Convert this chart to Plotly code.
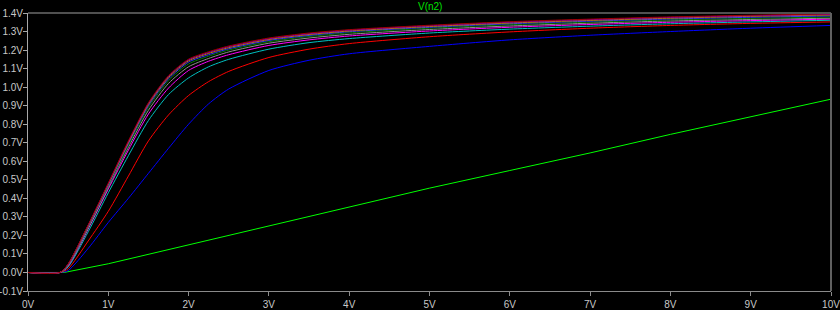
import plotly.graph_objects as go

# Sweep input (V) sample points
vin = [0, 0.4, 0.5, 0.75, 1, 1.25, 1.5, 1.75, 2, 2.25, 2.5, 3, 3.5, 4, 5, 6, 7, 8, 9, 10]

blue = [0, 0, 0.01, 0.13, 0.27, 0.40, 0.535, 0.67, 0.80, 0.91, 0.99, 1.09, 1.145, 1.18, 1.22, 1.255, 1.28, 1.30, 1.318, 1.333]
red = [0, 0, 0.02, 0.17, 0.33, 0.52, 0.71, 0.85, 0.955, 1.03, 1.085, 1.16, 1.205, 1.235, 1.272, 1.298, 1.318, 1.333, 1.344, 1.352]
cyan = [0, 0, 0.03, 0.22, 0.43, 0.63, 0.82, 0.96, 1.05, 1.11, 1.15, 1.205, 1.24, 1.262, 1.292, 1.313, 1.329, 1.342, 1.352, 1.361]
magenta = [0, 0, 0.035, 0.235, 0.45, 0.66, 0.855, 0.995, 1.09, 1.14, 1.175, 1.225, 1.255, 1.276, 1.303, 1.323, 1.338, 1.35, 1.359, 1.367]
gray = [0, 0, 0.038, 0.24, 0.46, 0.675, 0.875, 1.02, 1.11, 1.155, 1.19, 1.237, 1.265, 1.285, 1.311, 1.33, 1.345, 1.357, 1.365, 1.372]
dkgreen = [0, 0, 0.04, 0.245, 0.467, 0.685, 0.89, 1.035, 1.125, 1.167, 1.2, 1.245, 1.273, 1.293, 1.318, 1.337, 1.351, 1.363, 1.371, 1.378]
blue2 = [0, 0, 0.042, 0.25, 0.472, 0.695, 0.9, 1.045, 1.135, 1.175, 1.207, 1.252, 1.279, 1.299, 1.323, 1.342, 1.356, 1.368, 1.377, 1.384]
orange = [0, 0, 0.044, 0.253, 0.476, 0.70, 0.907, 1.052, 1.142, 1.182, 1.213, 1.257, 1.284, 1.303, 1.327, 1.346, 1.36, 1.372, 1.382, 1.389]
purple = [0, 0, 0.045, 0.255, 0.479, 0.705, 0.912, 1.058, 1.147, 1.187, 1.218, 1.261, 1.288, 1.307, 1.331, 1.35, 1.364, 1.376, 1.385, 1.392]
dkred = [0, 0, 0.046, 0.257, 0.482, 0.71, 0.916, 1.062, 1.151, 1.191, 1.222, 1.265, 1.292, 1.31, 1.334, 1.353, 1.367, 1.379, 1.388, 1.395]

green_x = [0, 0.45, 1, 2, 3, 4, 5, 6, 7, 8, 9, 10]
green = [0, 0, 0.047, 0.15, 0.25, 0.355, 0.455, 0.55, 0.645, 0.745, 0.84, 0.935]

x_ticks = [0, 1, 2, 3, 4, 5, 6, 7, 8, 9, 10]
x_labels = ["0V", "1V", "2V", "3V", "4V", "5V", "6V", "7V", "8V", "9V", "10V"]
y_ticks = [-0.1, 0.0, 0.1, 0.2, 0.3, 0.4, 0.5, 0.6, 0.7, 0.8, 0.9, 1.0, 1.1, 1.2, 1.3, 1.4]
y_labels = ["-0.1V", "0.0V", "0.1V", "0.2V", "0.3V", "0.4V", "0.5V", "0.6V", "0.7V",
            "0.8V", "0.9V", "1.0V", "1.1V", "1.2V", "1.3V", "1.4V"]

series = [
    (blue, "#0000ff"),
    (red, "#ff0000"),
    (cyan, "#00c0c0"),
    (magenta, "#ff00ff"),
    (gray, "#909090"),
    (dkgreen, "#008000"),
    (blue2, "#3030ff"),
    (orange, "#c08000"),
    (purple, "#9000c0"),
    (dkred, "#a00000"),
]

fig = go.Figure()
fig.add_trace(go.Scatter(x=green_x, y=green, mode="lines",
                         line=dict(color="#00ff00", width=1), showlegend=False))
for vals, col in series:
    fig.add_trace(go.Scatter(x=vin, y=vals, mode="lines",
                             line=dict(color=col, width=1, shape="spline", smoothing=0.7),
                             showlegend=False))

axis_font = dict(family="Liberation Sans, Arial, sans-serif", size=10, color="#c8c8c8")

fig.update_layout(
    width=840, height=310,
    margin=dict(l=28, r=9, t=13, b=19),
    paper_bgcolor="#000000", plot_bgcolor="#000000",
    xaxis=dict(range=[0, 10], tickvals=x_ticks, ticktext=x_labels, showgrid=False, zeroline=False,
               showline=True, linecolor="#8a8a8a", linewidth=1, ticks="outside", ticklen=4,
               tickcolor="#8a8a8a", tickfont=axis_font, automargin=False,
               ticklabeloverflow="allow"),
    yaxis=dict(range=[-0.1, 1.4], tickvals=y_ticks, ticktext=y_labels, showgrid=False, zeroline=False,
               showline=True, linecolor="#a8a8a8", linewidth=1, ticks="outside", ticklen=4,
               tickcolor="#a8a8a8", tickfont=axis_font, automargin=False,
               ticklabeloverflow="allow", ticklabelstandoff=-2),
    annotations=[dict(text="V(n2)", x=0.5, y=1, xref="paper", yref="paper", xanchor="center",
                      yanchor="bottom", showarrow=False, yshift=-1,
                      font=dict(family="Liberation Sans, Arial, sans-serif", size=10, color="#00e000"))],
    shapes=[
        dict(type="line", xref="paper", yref="paper", x0=0, x1=1, y0=1, y1=1,
             line=dict(color="#505050", width=2)),
        dict(type="line", xref="paper", yref="paper", x0=1, x1=1, y0=0, y1=1,
             line=dict(color="#606060", width=2)),
    ],
)

fig.write_html("out.html")
